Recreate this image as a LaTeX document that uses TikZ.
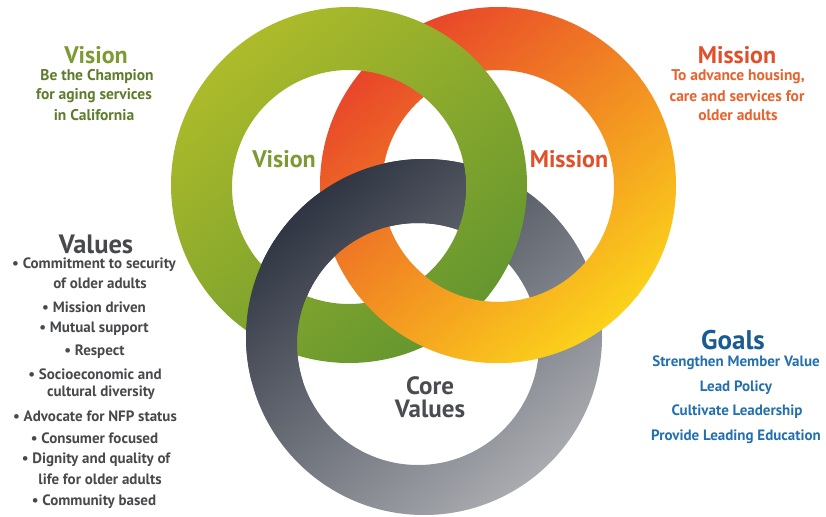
\documentclass[tikz,border=0pt]{standalone}
\usepackage{fontspec}
\setmainfont{PT Sans}
\definecolor{gA}{HTML}{ADBB2A}
\definecolor{gB}{HTML}{64962F}
\definecolor{oA}{HTML}{E8442A}
\definecolor{oM}{HTML}{F38A25}
\definecolor{oB}{HTML}{FBD21B}
\definecolor{kA}{HTML}{2F3542}
\definecolor{kB}{HTML}{A9ABB0}
\definecolor{visT}{HTML}{7D9B32}
\definecolor{visB}{HTML}{5E7C2C}
\definecolor{misT}{HTML}{E1502A}
\definecolor{misB}{HTML}{E7642F}
\definecolor{valC}{HTML}{48494C}
\definecolor{goT}{HTML}{1A5C92}
\definecolor{goB}{HTML}{2470AE}
\definecolor{coreC}{HTML}{4A4C52}
\tikzset{
  greenring/.style={even odd rule, top color=gA, bottom color=gB, shading angle=40},
  orangering/.style={even odd rule, top color=oA, middle color=oM, bottom color=oB, shading angle=40},
  grayring/.style={even odd rule, top color=kA, bottom color=kB, shading angle=40},
  title/.style={font=\bfseries\fontsize{24}{26}\selectfont, inner sep=0pt, anchor=center},
  body/.style={font=\bfseries\fontsize{15.5}{17}\selectfont, inner sep=0pt, anchor=center},
  lst/.style={font=\bfseries\fontsize{15}{17}\selectfont, inner sep=0pt, anchor=center, text=valC},
  gol/.style={font=\bfseries\fontsize{15}{17}\selectfont, inner sep=0pt, anchor=center, text=goB},
  ringlbl/.style={font=\bfseries\fontsize{24}{26}\selectfont, inner sep=0pt, anchor=center}
}
\begin{document}
\begin{tikzpicture}[x=1pt,y=-1pt]
\useasboundingbox (0,0) rectangle (826,516);
\fill[white] (0,0) rectangle (826,516);
% base rings
\shade[grayring] (424,337) circle[radius=178pt] (418,344) circle[radius=121pt];
\shade[orangering] (498,185) circle[radius=178pt] (498,186) circle[radius=116pt];
\shade[greenring] (349,185) circle[radius=178pt] (349,187) circle[radius=117pt];
% orange over green inside the gray ring's hole
\begin{scope}
\clip (418,344) circle[radius=121pt];
\shade[orangering] (498,185) circle[radius=178pt] (498,186) circle[radius=116pt];
\end{scope}
% gray over green at lower-left crossing
\begin{scope}
\clip (225,240) rectangle (318,380);
\shade[grayring] (424,337) circle[radius=178pt] (418,344) circle[radius=121pt];
\end{scope}
% gray over orange inside the green ring's hole
\begin{scope}
\clip (349,187) circle[radius=117pt];
\shade[grayring] (424,337) circle[radius=178pt] (418,344) circle[radius=121pt];
\end{scope}
% ring labels
\node[ringlbl, text=visT] (rv) at (284,159) {Vision};
\node[ringlbl, text=misT] (rm) at (569,159) {Mission};
\node[ringlbl, text=coreC, font=\bfseries\fontsize{25}{25}\selectfont] (rc1) at (430,386) {Core};
\node[ringlbl, text=coreC, font=\bfseries\fontsize{25}{25}\selectfont] (rc2) at (430,409) {Values};
% Vision block
\node[title, text=visT] (vt) at (96,55) {Vision};
\node[body, text=visB] (v1) at (97,77) {Be the Champion};
\node[body, text=visB] (v2) at (94,96) {for aging services};
\node[body, text=visB] (v3) at (94,115) {in California};
% Mission block
\node[title, text=misT] (mt) at (737,55) {Mission};
\node[body, text=misB] (m1) at (738,77) {To advance housing,};
\node[body, text=misB] (m2) at (737,96) {care and services for};
\node[body, text=misB] (m3) at (738,115) {older adults};
% Values block
\node[title, text=valC, font=\bfseries\fontsize{26.5}{27}\selectfont] (vh) at (96,244) {Values};
\node[lst] (l1) at (94,265) {• Commitment to security};
\node[lst] (l2) at (100,283) {of older adults};
\node[lst] (l3) at (94,307) {• Mission driven};
\node[lst] (l4) at (94,329) {• Mutual support};
\node[lst] (l5) at (94.5,352) {• Respect};
\node[lst] (l6) at (95,374) {• Socioeconomic and};
\node[lst] (l7) at (101,393) {cultural diversity};
\node[lst] (l8) at (95,416) {• Advocate for NFP status};
\node[lst] (l9) at (94.5,438) {• Consumer focused};
\node[lst] (l10) at (96,460) {• Dignity and quality of};
\node[lst] (l11) at (100,479) {life for older adults};
\node[lst] (l12) at (94,502) {• Community based};
% Goals block
\node[title, text=goT, font=\bfseries\fontsize{27}{27}\selectfont] (gh) at (733,340) {Goals};
\node[gol] (g1) at (736,363) {Strengthen Member Value};
\node[gol] (g2) at (736,388) {Lead Policy};
\node[gol] (g3) at (737,412) {Cultivate Leadership};
\node[gol] (g4) at (736,437) {Provide Leading Education};
\end{tikzpicture}
\end{document}
